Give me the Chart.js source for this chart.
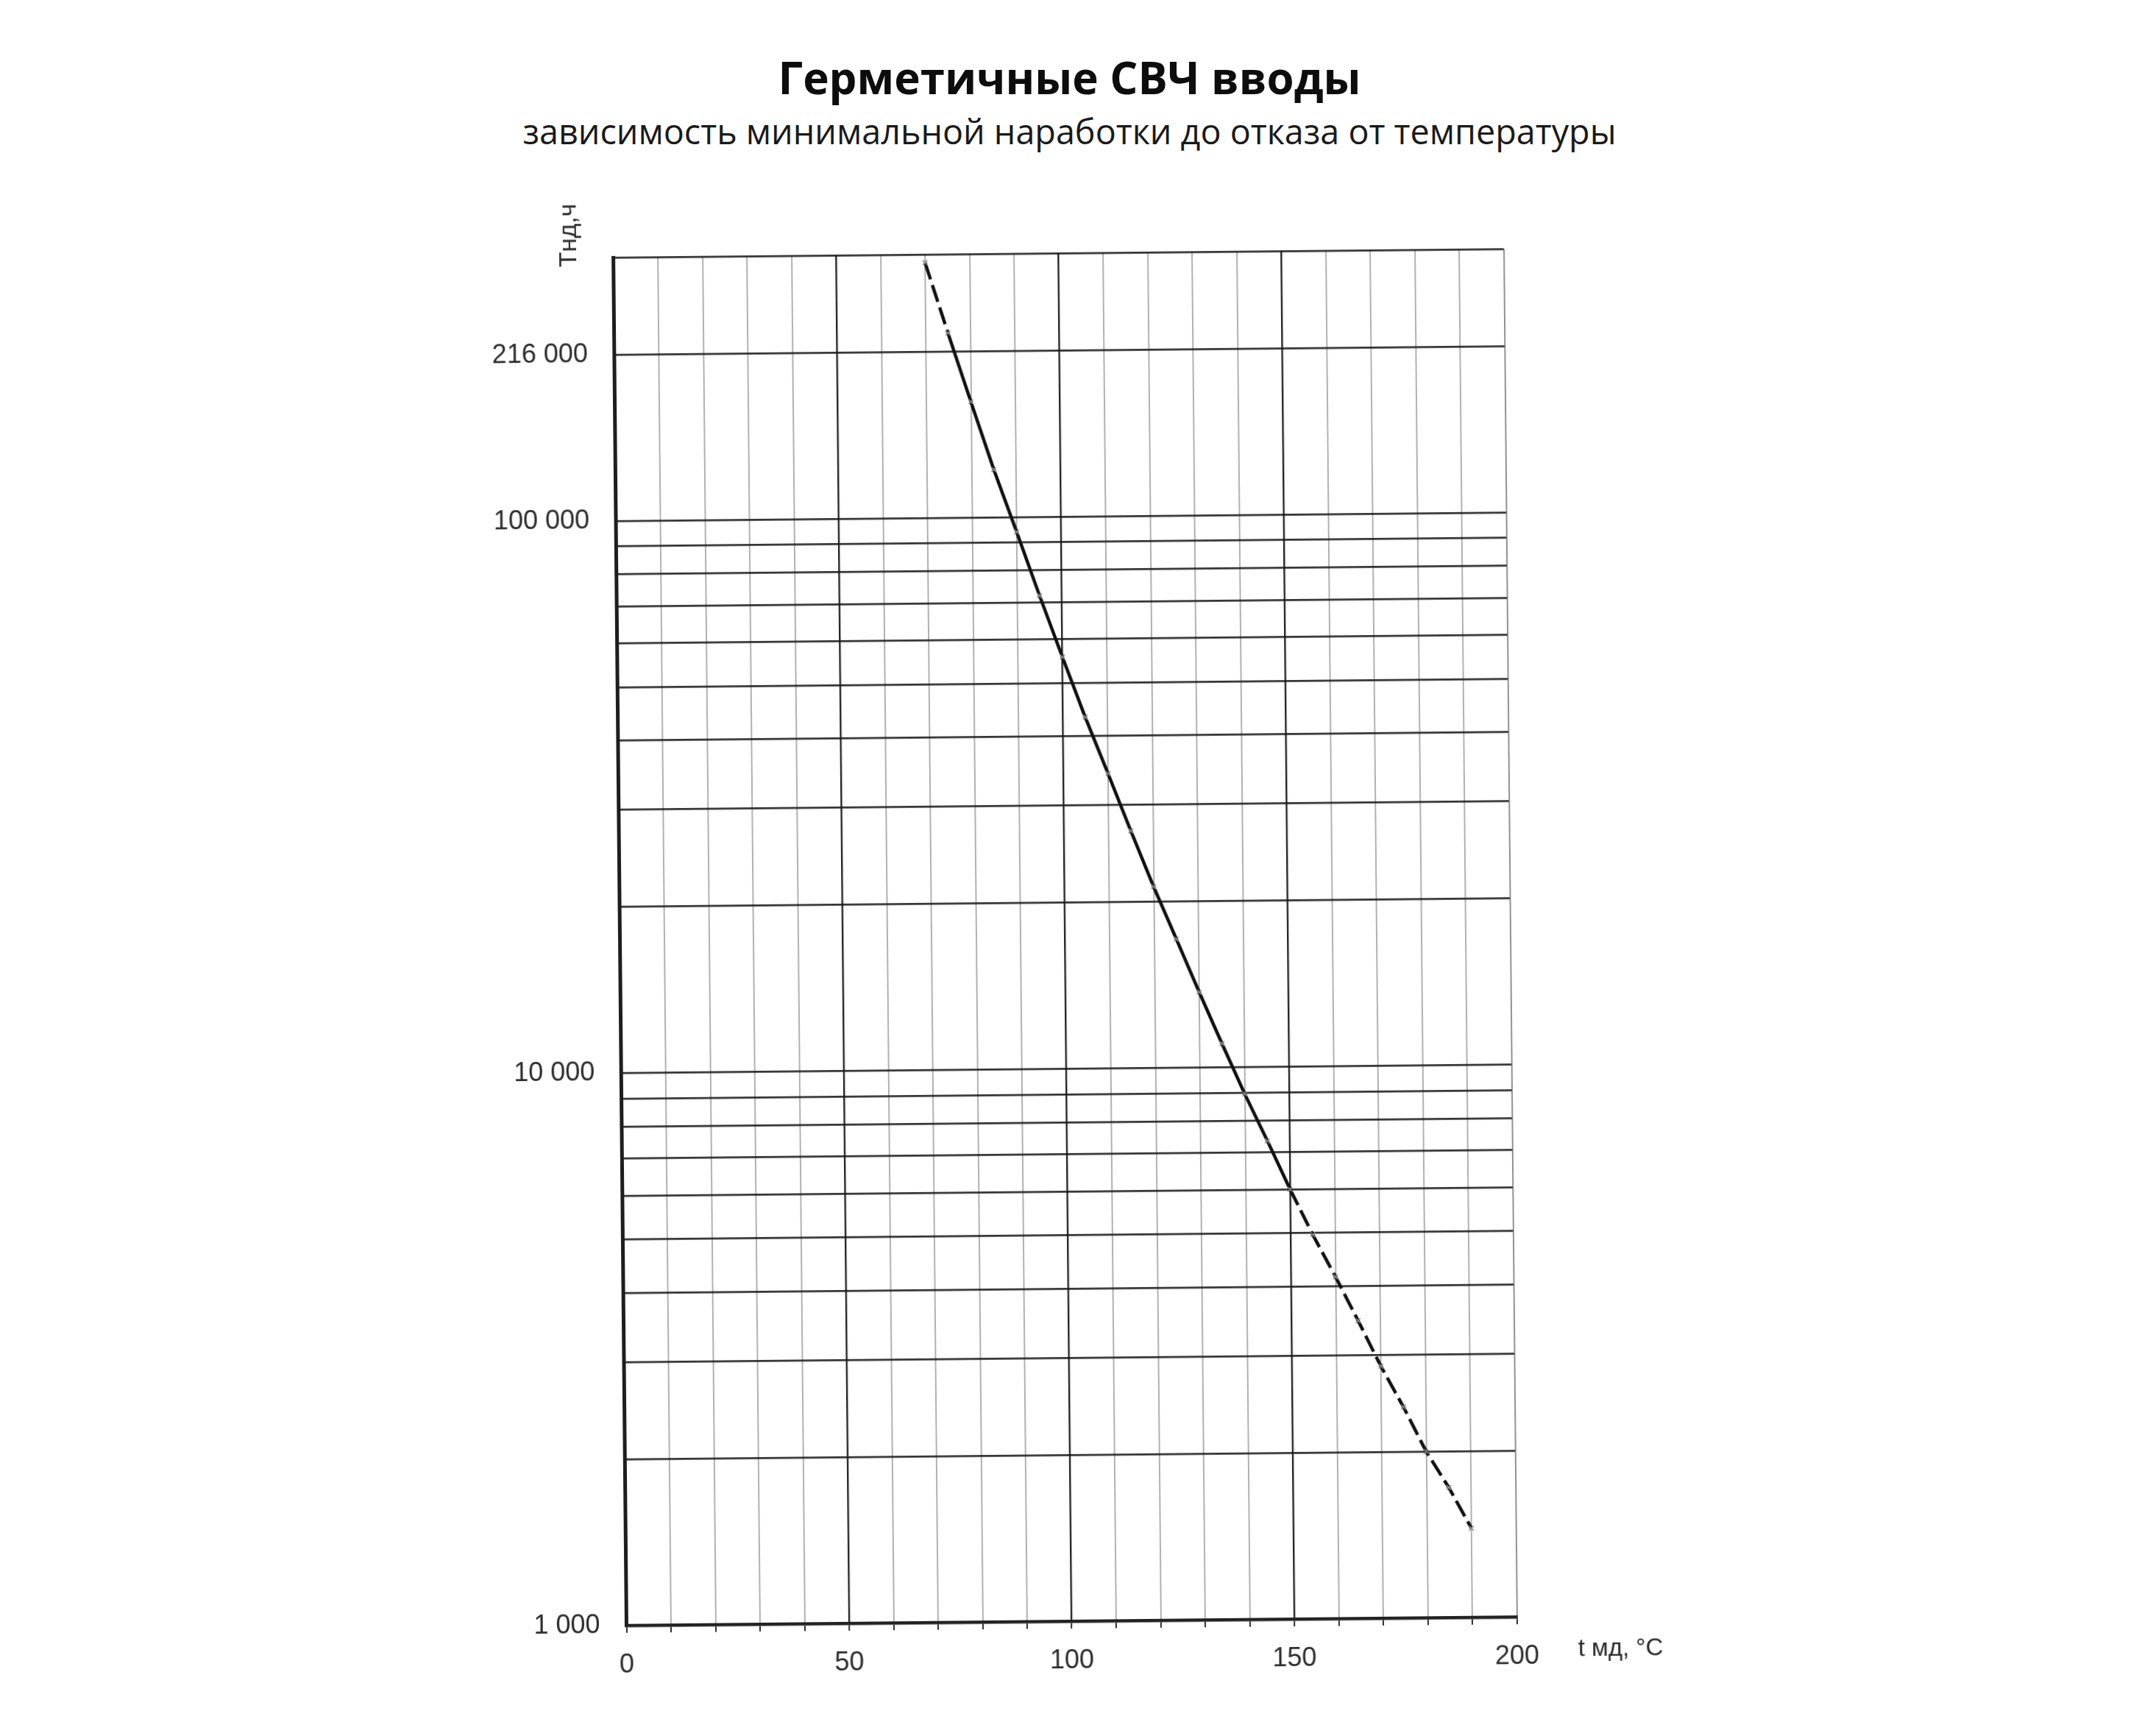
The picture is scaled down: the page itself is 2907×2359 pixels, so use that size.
<!DOCTYPE html>
<html lang="ru">
<head>
<meta charset="utf-8">
<title>Герметичные СВЧ вводы</title>
<script src="https://cdn.jsdelivr.net/npm/chart.js@4.4.1/dist/chart.umd.min.js"></script>
<style>
  html, body { margin: 0; padding: 0; background: #ffffff; }
  body { width: 2907px; height: 2359px; position: relative; overflow: hidden; }
  .heading {
    position: absolute; left: 0; width: 2907px; text-align: center;
    line-height: 1; white-space: nowrap; font-family: "Open Sans", sans-serif;
  }
  #title { top: 75px; font-size: 60px; font-weight: 700; color: #0d0d0d; }
  #subtitle { top: 155px; font-size: 46.7px; font-weight: 400; color: #1a1a1a; }
  /* the plotted sheet sits very slightly turned, as on the printed page */
  #plot {
    position: absolute; left: 0; top: 0; width: 2907px; height: 2359px;
    transform: rotate(-0.55deg); transform-origin: 1447.5px 1273.5px;
  }
</style>
</head>
<body>
<div id="title" class="heading">Герметичные СВЧ вводы</div>
<div id="subtitle" class="heading">зависимость минимальной наработки до отказа от температуры</div>
<div id="plot"><canvas id="chart" width="2907" height="2359"></canvas></div>
<script>
// Operating temperature, °C
const temperatures = [70, 75, 80, 85, 90, 95, 100, 105, 110, 115, 120, 125, 130,
                      135, 140, 145, 150, 155, 160, 165, 170, 175, 180, 185, 190];
// Minimum time to failure, hours
const hoursToFailure = [290000, 216000, 162000, 122000, 94000, 72000, 55700, 43300, 34200,
                        26900, 21300, 17100, 13700, 11050, 8950, 7350, 6000, 4960, 4160,
                        3460, 2860, 2410, 2000, 1720, 1450];

// Grid of the log paper
const yGridValues = [1000, 2000, 3000, 4000, 5000, 6000, 7000, 8000, 9000,
                     10000, 20000, 30000, 40000, 50000, 60000, 70000, 80000, 90000,
                     100000, 200000, 300000];
const yLabelValues = [1000, 10000, 100000, 200000];
const yLabelTexts = ['1 000', '10 000', '100 000', '216 000'];
const xGridValues = [0, 10, 20, 30, 40, 50, 60, 70, 80, 90, 100,
                     110, 120, 130, 140, 150, 160, 170, 180, 190, 200];
const xLabelValues = [0, 50, 100, 150, 200];
const xMajorValues = [50, 100, 150];
const xAxisCaption = 't мд, °C';
const yAxisCaption = 'Тнд,ч';

// Interval drawn as a solid line; outside it the curve is extrapolated (dashed)
const solidFrom = 75;
const solidTo = 150;

const tickFont = { family: '"Liberation Sans", Arial, sans-serif', size: 36 };

// Axis captions: the temperature caption sits to the right of the scale,
// the time caption stands upright above the vertical axis.
const axisCaptions = {
  id: 'axisCaptions',
  afterDraw(chart) {
    const { ctx, chartArea } = chart;
    const xs = chart.scales.x;
    ctx.save();
    ctx.fillStyle = '#2a2a2a';
    ctx.font = '33px "Liberation Sans", Arial, sans-serif';
    ctx.textAlign = 'left';
    ctx.textBaseline = 'alphabetic';
    ctx.fillText(xAxisCaption, xs.getPixelForValue(xs.max) + 83, chartArea.bottom + 54);
    ctx.translate(chartArea.left - 50.5, chartArea.top - 30.5);
    ctx.rotate(-Math.PI / 2);
    ctx.font = '34px "Liberation Sans", Arial, sans-serif';
    ctx.textAlign = 'center';
    ctx.fillText(yAxisCaption, 0, 0);
    ctx.restore();
  }
};

const points = temperatures.map((t, i) => ({ x: t, y: hoursToFailure[i] }));

new Chart(document.getElementById('chart'), {
  type: 'line',
  data: {
    datasets: [{
      data: points,
      borderColor: '#111111',
      borderWidth: 4.5,
      tension: 0,
      pointStyle: 'crossRot',
      pointRadius: 4.5,
      pointBorderColor: '#8c8c8c',
      pointBackgroundColor: '#8c8c8c',
      pointBorderWidth: 1.6,
      segment: {
        borderDash: ctx => (ctx.p0.parsed.x < solidFrom || ctx.p0.parsed.x >= solidTo) ? [24, 8] : undefined
      }
    }]
  },
  options: {
    responsive: false,
    animation: false,
    devicePixelRatio: 1,
    layout: { padding: { left: 642.5, top: 344, right: 854.5, bottom: 56 } },
    plugins: {
      legend: { display: false },
      tooltip: { enabled: false },
      title: { display: false }
    },
    scales: {
      x: {
        type: 'linear',
        min: 0,
        max: 200,
        afterFit: s => { s.height = 100; },
        afterBuildTicks: s => { s.ticks = xGridValues.map(v => ({ value: v })); },
        grid: {
          color: ctx => {
            const v = ctx.tick ? ctx.tick.value : 0;
            if (xMajorValues.includes(v)) return '#262626';
            if (v === 200) return 'rgba(0,0,0,0.45)';
            return 'rgba(0,0,0,0.32)';
          },
          lineWidth: ctx => {
            const v = ctx.tick ? ctx.tick.value : 0;
            return xMajorValues.includes(v) ? 2.4 : 1.9;
          },
          drawTicks: true,
          tickLength: 10,
          tickColor: '#2e2e2e',
          tickWidth: 2
        },
        border: { color: '#222222', width: 4.5 },
        ticks: {
          autoSkip: false,
          maxRotation: 0,
          minRotation: 0,
          padding: 22,
          color: '#2e2e2e',
          font: tickFont,
          callback: v => (xLabelValues.includes(v) ? String(v) : '')
        }
      },
      y: {
        type: 'logarithmic',
        min: 1000,
        max: 300000,
        afterFit: s => { s.width = 200; },
        afterBuildTicks: s => { s.ticks = yGridValues.map(v => ({ value: v })); },
        grid: {
          color: 'rgba(25,25,25,0.88)',
          lineWidth: 2.7,
          drawTicks: false
        },
        border: { color: '#1e1e1e', width: 5 },
        ticks: {
          autoSkip: false,
          padding: 36,
          color: '#2e2e2e',
          font: tickFont,
          callback: v => {
            const i = yLabelValues.indexOf(v);
            return i >= 0 ? yLabelTexts[i] : '';
          }
        }
      }
    }
  },
  plugins: [axisCaptions]
});
</script>
</body>
</html>
